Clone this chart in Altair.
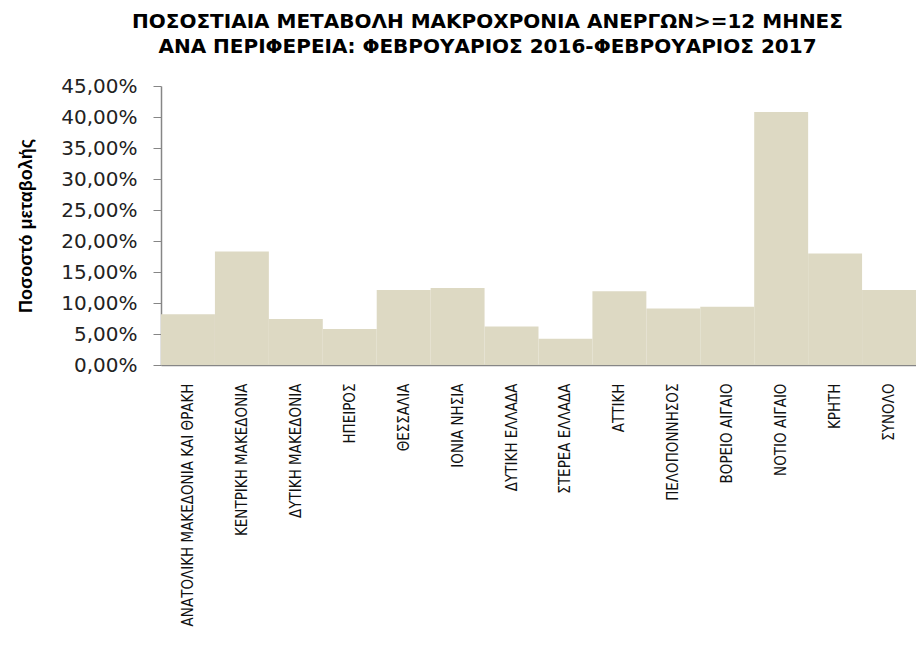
import altair as alt
import pandas as pd

regions = [
    "ΑΝΑΤΟΛΙΚΗ ΜΑΚΕΔΟΝΙΑ ΚΑΙ ΘΡΑΚΗ",
    "ΚΕΝΤΡΙΚΗ ΜΑΚΕΔΟΝΙΑ",
    "ΔΥΤΙΚΗ ΜΑΚΕΔΟΝΙΑ",
    "ΗΠΕΙΡΟΣ",
    "ΘΕΣΣΑΛΙΑ",
    "ΙΟΝΙΑ ΝΗΣΙΑ",
    "ΔΥΤΙΚΗ ΕΛΛΑΔΑ",
    "ΣΤΕΡΕΑ ΕΛΛΑΔΑ",
    "ΑΤΤΙΚΗ",
    "ΠΕΛΟΠΟΝΝΗΣΟΣ",
    "ΒΟΡΕΙΟ ΑΙΓΑΙΟ",
    "ΝΟΤΙΟ ΑΙΓΑΙΟ",
    "ΚΡΗΤΗ",
    "ΣΥΝΟΛΟ",
]
change_pct = [8.2, 18.3, 7.4, 5.8, 12.1, 12.4, 6.2, 4.25, 11.9, 9.1, 9.4, 40.8, 18.0, 12.1]
y_ticks = [0, 0.05, 0.10, 0.15, 0.20, 0.25, 0.30, 0.35, 0.40, 0.45]

title_lines = [
    "ΠΟΣΟΣΤΙΑΙΑ ΜΕΤΑΒΟΛΗ ΜΑΚΡΟΧΡΟΝΙΑ ΑΝΕΡΓΩΝ>=12 ΜΗΝΕΣ",
    "ΑΝΑ ΠΕΡΙΦΕΡΕΙΑ: ΦΕΒΡΟΥΑΡΙΟΣ 2016-ΦΕΒΡΟΥΑΡΙΟΣ 2017",
]
y_title = "Ποσοστό μεταβολής"

df = pd.DataFrame({"region": regions, "value": [v / 100 for v in change_pct]})

narrow = "Liberation Sans Narrow, DejaVu Sans Condensed, sans-serif"

chart = (
    alt.Chart(df)
    .mark_bar(color="#DDD9C3")
    .encode(
        x=alt.X(
            "region:N",
            sort=regions,
            scale=alt.Scale(paddingInner=0, paddingOuter=0),
            axis=alt.Axis(
                title=None,
                labelAngle=270,
                labelFont=narrow,
                labelFontSize=15,
                labelColor="#111111",
                labelPadding=18,
                labelLimit=400,
                ticks=False,
                domainColor="#868686",
                domainWidth=1.5,
            ),
        ),
        y=alt.Y(
            "value:Q",
            scale=alt.Scale(domain=[0, 0.45], nice=False),
            axis=alt.Axis(
                title=y_title,
                values=y_ticks,
                labelExpr="replace(format(datum.value, '.2%'), '.', ',')",
                labelFont="DejaVu Sans",
                labelFontSize=20,
                labelColor="#222222",
                labelPadding=16,
                tickSize=8,
                tickColor="#868686",
                domainColor="#868686",
                domainWidth=1.5,
                grid=False,
                titleFont="Liberation Sans",
                titleFontSize=18,
                titleFontWeight="bold",
                titleColor="#000000",
                titlePadding=25,
            ),
        ),
    )
    .properties(
        width=755,
        height=279,
        autosize=alt.AutoSizeParams(type="none"),
        padding={"left": 153, "top": 78, "right": 0, "bottom": 268},
        title=alt.TitleParams(
            title_lines,
            anchor="middle",
            frame="group",
            dx=-51,
            offset=19,
            font="DejaVu Sans",
            fontSize=20,
            fontWeight="bold",
            lineHeight=25,
            color="#000000",
        ),
    )
    .configure_view(stroke=None)
)

chart.save("out.html", embed_options={"renderer": "svg", "actions": False})
